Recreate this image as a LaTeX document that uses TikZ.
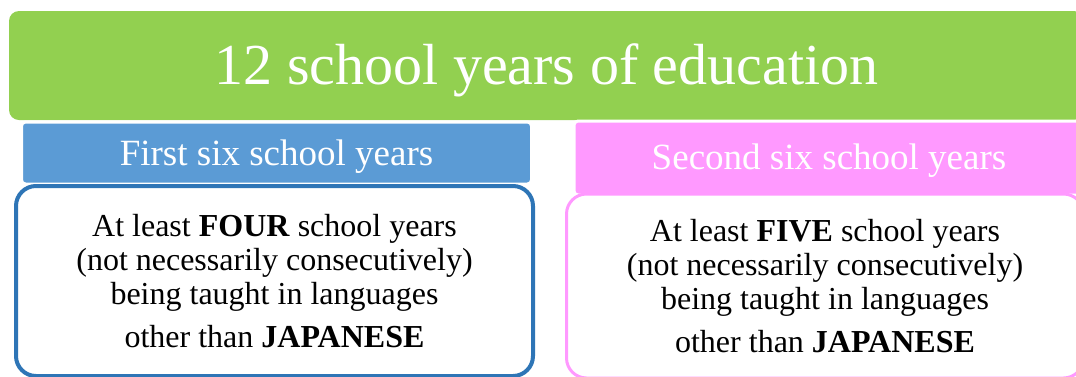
\documentclass[tikz,border=0pt]{standalone}
\usepackage{fontspec}
\setmainfont{Liberation Serif}
\usepackage{tikz}
\usetikzlibrary{positioning}
\usepackage{xcolor}
\definecolor{titlegreen}{HTML}{92D050}
\definecolor{headblue}{HTML}{5B9BD5}
\definecolor{edgeblue}{HTML}{2E75B6}
\definecolor{headpink}{HTML}{FF99FF}
\newcommand{\lowertext}[2]{\raisebox{-#1}[\height][\depth]{#2}}

\begin{document}
\begin{tikzpicture}[
    x=1pt, y=-1pt,
    titlebox/.style={fill=titlegreen, rounded corners=10pt, minimum width=1075pt, minimum height=109pt, inner sep=0pt, text=white, font=\fontsize{58}{62}\selectfont},
    headbox/.style={draw=white, line width=3pt, rounded corners=4pt, minimum width=510pt, inner sep=0pt, text=white, font=\fontsize{37}{40}\selectfont},
    bodybox/.style={fill=white, rounded corners=20pt, minimum width=517pt, inner sep=0pt, align=center, font=\fontsize{32}{34}\selectfont}
]
\useasboundingbox (0,0) rectangle (1076,376);

% ---- Top banner ----
\node[titlebox] (title) at (546.5, 65.5) {\lowertext{5pt}{12 school years of education}};

% ---- Headers ----
\node[headbox, fill=headblue, minimum height=62pt] (first) at (276.5, 153) {\lowertext{4pt}{First six school years}};
\node[headbox, fill=headpink, minimum height=74pt] (second) at (829, 158) {\lowertext{3pt}{Second six school years}};

% ---- Bodies ----
\node[bodybox, draw=edgeblue, line width=4pt, minimum height=190pt] (firstbody) at (274.5, 281) {At least \textbf{FOUR} school years\\(not necessarily consecutively)\\being taught in languages\\[9pt]other than \textbf{JAPANESE}};
\node[bodybox, draw=headpink, line width=3pt, minimum height=184pt] (secondbody) at (825, 286) {At least \textbf{FIVE} school years\\(not necessarily consecutively)\\being taught in languages\\[9pt]other than \textbf{JAPANESE}};

\end{tikzpicture}
\end{document}
